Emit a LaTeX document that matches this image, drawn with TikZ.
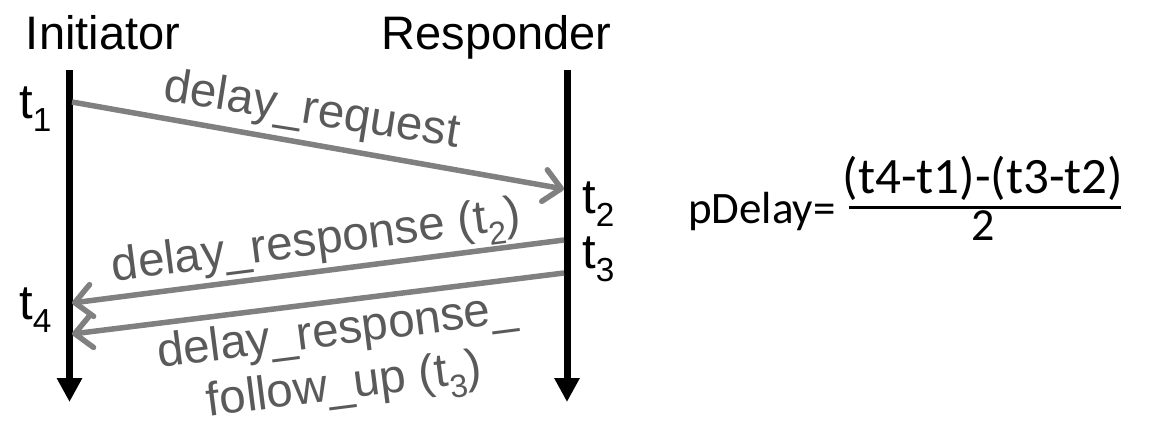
\documentclass[tikz,border=0pt]{standalone}
\usepackage{fontspec}
\usepackage{graphicx}
\setmainfont{Liberation Sans}
\newfontfamily\calfont{Carlito}
\usetikzlibrary{arrows.meta}
\definecolor{arrowgray}{HTML}{808080}
\definecolor{textgray}{HTML}{5A5A5A}
\newcommand{\mysub}[1]{\raisebox{-0.27em}{\scalebox{0.68}{#1}}}
\begin{document}
\begin{tikzpicture}[x=1pt,y=-1pt,
  lbl/.style={inner sep=0pt, anchor=base, font=\fontsize{47}{56}\selectfont},
  tlbl/.style={inner sep=0pt, anchor=base west, font=\fontsize{49}{56}\selectfont},
  msg/.style={text=textgray, inner sep=0pt, anchor=base, font=\fontsize{47.5}{56}\selectfont},
  frm/.style={inner sep=0pt},
  life/.style={line width=7pt, -{Triangle[length=24pt,width=24pt]}},
  arr/.style={draw=arrowgray, line width=5.5pt, -{Straight Barb[length=17pt,width=32pt,round]}}]
\useasboundingbox (0,0) rectangle (1150,423);
% titles
\node[lbl] (init) at (103,49) {Initiator};
\node[lbl] (resp) at (496.5,49) {Responder};
% lifelines
\coordinate (Itop) at (69.5,70);
\coordinate (Ibot) at (69.5,402);
\coordinate (Rtop) at (567,70);
\coordinate (Rbot) at (567,402);
\draw[life] (Itop) -- (Ibot);
\draw[life] (Rtop) -- (Rbot);
% message end points
\coordinate (a1s) at (72,102);
\coordinate (a1e) at (564,189);
\coordinate (a2s) at (564,240);
\coordinate (a2e) at (72,303);
\coordinate (a3s) at (564,273);
\coordinate (a3e) at (72,334);
\draw[arr] (a1s) -- (a1e);
\draw[arr] (a2s) -- (a2e);
\draw[arr] (a3s) -- (a3e);
% time labels
\node[tlbl] (t1) at (19,118) {t\mysub{1}};
\node[tlbl] (t2) at (582,213) {t\mysub{2}};
\node[tlbl] (t3) at (582,268) {t\mysub{3}};
\node[tlbl] (t4) at (19,319) {t\mysub{4}};
% message labels
\node[msg, rotate=-9] (m1) at (310,124) {delay\_request};
\node[msg, rotate=7.3] (m2) at (318,255) {delay\_response (t\mysub{2})};
\node[msg, rotate=7.3] (m3a) at (339,345) {delay\_response\_};
\node[msg, rotate=7.3] (m3b) at (346,399) {follow\_up (t\mysub{3})};
% formula
\node[frm, anchor=base west, font=\calfont\fontsize{45}{54}\selectfont] (pd) at (688,223) {pDelay=};
\node[frm, anchor=base, font=\calfont\fontsize{51}{60}\selectfont] (num) at (983,193) {(t4-t1)-(t3-t2)};
\node[frm, anchor=base, font=\calfont\fontsize{46}{54}\selectfont] (den) at (983,240) {2};
\draw[line width=3pt] ([xshift=6pt,yshift=-14pt]num.base west) -- ([xshift=-2pt,yshift=-14pt]num.base east);
\end{tikzpicture}
\end{document}
